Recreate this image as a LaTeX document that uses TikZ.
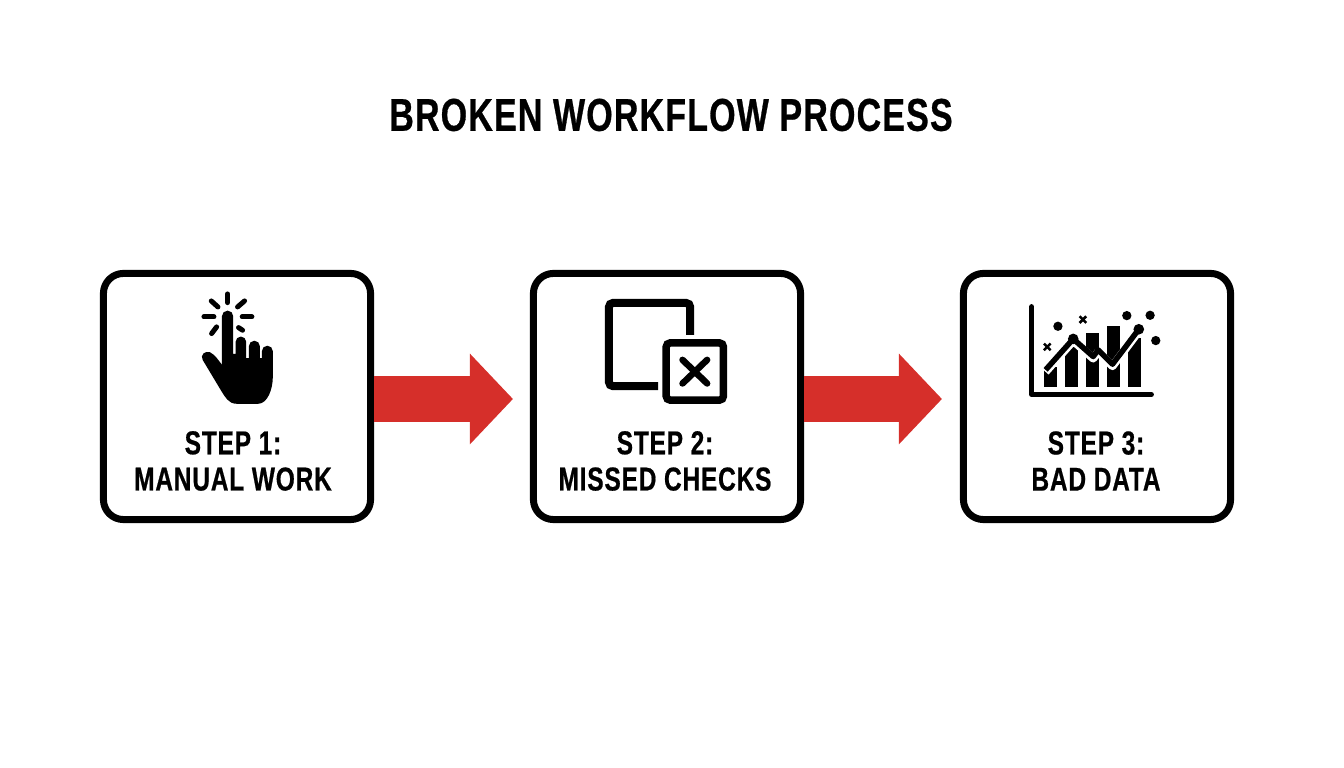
\documentclass[tikz,border=0pt]{standalone}
\usepackage{fontspec}
\setmainfont{Liberation Sans}[FakeStretch=0.74, LetterSpace=2.5, BoldFeatures={FakeBold=0.6}]
\usetikzlibrary{arrows, arrows.meta}
\definecolor{flowred}{HTML}{D62F2A}
\tikzset{
  stepbox/.style={draw, rounded corners=0.2cm, line width=0.07cm, minimum width=2.67cm, minimum height=2.46cm, inner sep=0pt},
  steplabel/.style={align=center, inner sep=0pt, font=\bfseries\fontsize{9.4}{10.3}\selectfont},
  flowarrow/.style={draw=flowred, line width=0.46cm, -{Triangle[length=0.43cm, width=0.88cm]}},
  spark/.style={line width=0.05cm, line cap=round},
  iconline/.style={line width=0.08cm},
  chartline/.style={line width=0.055cm, line join=round},
  chartmark/.style={line width=0.025cm}
}
\begin{document}
\begin{tikzpicture}[x=0.01cm, y=-0.01cm]
    \useasboundingbox (0,0) rectangle (1344,768);

    \node[inner sep=0pt, font=\bfseries\fontsize{13.07}{14}\selectfont] (title) at (671,115) {BROKEN WORKFLOW PROCESS};

    \coordinate (tip1) at (513,399);
    \coordinate (tip2) at (942,399);

    \node[stepbox] (step1) at (237,396.5) {};
    \node[stepbox] (step2) at (667,396.5) {};
    \node[stepbox] (step3) at (1097,396.5) {};

    \draw[flowarrow] (step1.east |- tip1) -- (tip1);
    \draw[flowarrow] (step2.east |- tip2) -- (tip2);

    \node[steplabel] (label1) at (233,461) {STEP 1:\\MANUAL WORK};
    \node[steplabel] (label2) at (665,461) {STEP 2:\\MISSED CHECKS};
    \node[steplabel] (label3) at (1096,461) {STEP 3:\\BAD DATA};

    % hand
    \begin{scope}[shift={(180,280)}, x=0.00333cm, y=-0.00333cm]
      \fill (126,255) -- (126,109) arc[start angle=180, end angle=360, radius=17] -- (160,222) -- (167,222)
        -- (167,186) arc[start angle=180, end angle=360, radius=16] -- (199,235) -- (207,235)
        -- (207,199) arc[start angle=180, end angle=360, radius=16.5] -- (240,235) -- (246,235)
        -- (246,214) arc[start angle=180, end angle=360, radius=16.5] -- (279,290)
        .. controls (279,330) and (262,372) .. (235,372) -- (170,372)
        .. controls (145,372) and (135,350) .. (125,335) -- (68,240)
        .. controls (60,225) and (75,212) .. (90,217)
        .. controls (105,225) and (115,240) .. (126,255) -- cycle;
      \draw[spark] (143,42) -- (143,68);
      \draw[spark] (72,111) -- (102,111);
      \draw[spark] (187,111) -- (216,111);
      \draw[spark] (94,63) -- (114,81);
      \draw[spark] (194,63) -- (173,81);
      \draw[spark] (110,141) -- (95,161);
      \draw[spark] (176,143) -- (188,151);
    \end{scope}

    % overlapping squares
    \begin{scope}[shift={(590,285)}, x=0.00333cm, y=-0.00333cm]
      \draw[iconline, rounded corners=0.04cm] (301,150) -- (301,54) -- (57,54) -- (57,304) -- (205,304);
      \draw[iconline, line width=0.075cm, rounded corners=0.04cm] (229,174) rectangle (401,346);
      \draw[iconline, line width=0.065cm, line cap=round] (278,225) -- (352,296);
      \draw[iconline, line width=0.065cm, line cap=round] (352,225) -- (278,296);
    \end{scope}

    % chart
    \begin{scope}[shift={(1015,295)}, x=0.00333cm, y=-0.00333cm]
      \draw[line width=0.05cm, line cap=round, line join=round] (50,35) -- (50,299) -- (410,299);
      \fill (88,215) rectangle (127,277);
      \fill (150,155) rectangle (190,277);
      \fill (213,115) rectangle (253,277);
      \fill (276,92) rectangle (315,277);
      \fill (339,130) rectangle (378,277);
      \draw[chartline, white, line width=0.08cm] (92,231) -- (175,138) -- (235,191) -- (250,171) -- (293,214) -- (372,109);
      \draw[chartline] (92,225) -- (175,132) -- (235,185) -- (250,165) -- (293,208) -- (372,103);
      \fill (175,132) circle[radius=16];
      \fill (372,103) circle[radius=16];
      \fill (129,94) circle[radius=14];
      \fill (336,62) circle[radius=14];
      \fill (406,61) circle[radius=14];
      \fill (423,137) circle[radius=14];
      \draw[chartmark] (87,146) -- (107,166);
      \draw[chartmark] (107,146) -- (87,166);
      \draw[chartmark] (194,64) -- (214,84);
      \draw[chartmark] (214,64) -- (194,84);
    \end{scope}
\end{tikzpicture}
\end{document}
